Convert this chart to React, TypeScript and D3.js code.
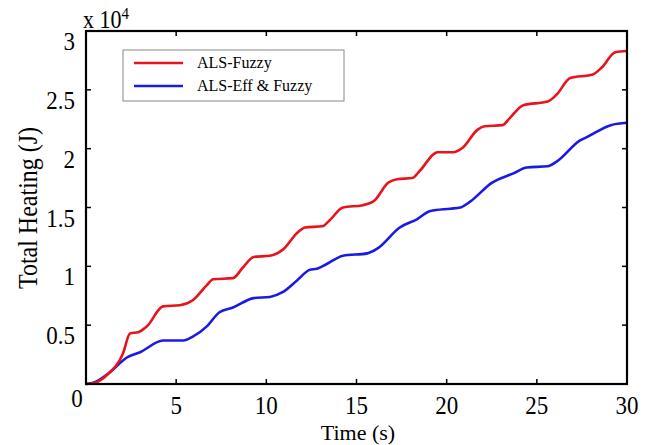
import React from "react";
import * as d3 from "d3";

const xTicks = [5, 10, 15, 20, 25, 30];
const yTicks = [0.5, 1, 1.5, 2, 2.5, 3];
const yTickLabels = ["0.5", "1", "1.5", "2", "2.5", "3"];

const fuzzyT = [0, 0.5, 1.16, 2.05, 2.44, 2.9, 3.38, 4.27, 5.2, 5.9, 6.7, 7.05, 8.15, 8.7, 9.3, 10.2, 10.9, 11.75, 12.15, 13.1, 13.5, 14.25, 15.35, 16.0, 16.75, 17.25, 18.1, 18.5, 19.5, 20.35, 20.9, 21.7, 22.1, 23.1, 23.5, 24.25, 25.6, 26.1, 26.85, 28.1, 28.6, 29.35, 30];
const fuzzyV = [0, 0.01, 0.076, 0.26, 0.43, 0.44, 0.49, 0.66, 0.67, 0.71, 0.84, 0.89, 0.9, 0.99, 1.08, 1.09, 1.14, 1.29, 1.33, 1.34, 1.39, 1.5, 1.52, 1.56, 1.71, 1.74, 1.75, 1.81, 1.97, 1.97, 2.01, 2.16, 2.19, 2.2, 2.26, 2.37, 2.4, 2.46, 2.6, 2.63, 2.69, 2.82, 2.83];

const effT = [0, 0.4, 1.16, 2.33, 3.0, 4.27, 5.4, 5.9, 6.7, 7.4, 8.15, 9.3, 10.2, 10.9, 11.7, 12.4, 12.8, 13.35, 14.25, 15.6, 16.15, 17.4, 18.35, 19.1, 20.2, 20.75, 21.3, 22.5, 23.7, 24.45, 25.6, 26.1, 27.4, 27.8, 29.1, 30];
const effV = [0, 0.01, 0.08, 0.23, 0.27, 0.37, 0.37, 0.4, 0.49, 0.61, 0.65, 0.73, 0.74, 0.78, 0.88, 0.97, 0.98, 1.02, 1.09, 1.11, 1.15, 1.33, 1.4, 1.47, 1.49, 1.5, 1.55, 1.71, 1.79, 1.84, 1.85, 1.89, 2.07, 2.1, 2.2, 2.22];

const seriesNames = ["ALS-Fuzzy", "ALS-Eff & Fuzzy"];
const colors = ["#e8141c", "#1a1ae6"];

const W = 648, H = 445;
const L = 86, R = 627, T = 31, B = 384;
const font = "'Liberation Serif', 'Times New Roman', serif";

function Label({ x, y, anchor, size, children }: { x: number; y: number; anchor: string; size: number; children: React.ReactNode }) {
  return (
    <text transform={`translate(${x},${y}) scale(1,1.12)`} textAnchor={anchor} fontSize={size}>
      {children}
    </text>
  );
}

export default function App() {
  const x = d3.scaleLinear().domain([0, 30]).range([L, R]);
  const y = d3.scaleLinear().domain([0, 3]).range([B, T]);
  const line = d3
    .line<[number, number]>()
    .x((d) => x(d[0]))
    .y((d) => y(d[1]))
    .curve(d3.curveMonotoneX);
  const s1 = fuzzyT.map((t, i) => [t, fuzzyV[i]] as [number, number]);
  const s2 = effT.map((t, i) => [t, effV[i]] as [number, number]);
  const tl = 5;
  return (
    <svg width={W} height={H} style={{ position: "absolute", left: 0, top: 0, background: "#fff" }} fontFamily={font}>
      <rect x={0} y={0} width={W} height={H} fill="#fff" />
      <path d={line(s2) || ""} fill="none" stroke={colors[1]} strokeWidth={2.6} />
      <path d={line(s1) || ""} fill="none" stroke={colors[0]} strokeWidth={2.6} />
      {xTicks.map((t) => (
        <g key={"x" + t}>
          <line x1={x(t)} x2={x(t)} y1={B} y2={B - tl} stroke="#000" strokeWidth={1.5} />
          <line x1={x(t)} x2={x(t)} y1={T} y2={T + tl} stroke="#000" strokeWidth={1.5} />
          <Label x={x(t)} y={414} anchor="middle" size={23}>{t}</Label>
        </g>
      ))}
      {yTicks.map((t, i) => (
        <g key={"y" + t}>
          <line x1={L} x2={L + tl} y1={y(t)} y2={y(t)} stroke="#000" strokeWidth={1.5} />
          <line x1={R} x2={R - tl} y1={y(t)} y2={y(t)} stroke="#000" strokeWidth={1.5} />
          <Label x={75} y={y(t) + 19} anchor="end" size={23}>{yTickLabels[i]}</Label>
        </g>
      ))}
      <Label x={77} y={407} anchor="middle" size={23}>0</Label>
      <rect x={L} y={T} width={R - L} height={B - T} fill="none" stroke="#000" strokeWidth={2.2} />
      <text transform="translate(83,28) scale(1,1.1)" fontSize={22}>
        x 10
        <tspan dy={-8} fontSize={15}>4</tspan>
      </text>
      <text x={358} y={440} textAnchor="middle" fontSize={22}>Time (s)</text>
      <text transform="translate(37,208) rotate(-90) scale(1,1.12)" textAnchor="middle" fontSize={24}>Total Heating (J)</text>
      <rect x={123} y={50} width={221} height={51} fill="#fff" stroke="#888" strokeWidth={1} />
      {seriesNames.map((n, i) => (
        <g key={n}>
          <line x1={134} x2={183} y1={63 + i * 23} y2={63 + i * 23} stroke={colors[i]} strokeWidth={2.6} />
          <text x={197} y={68 + i * 23} fontSize={16}>{n}</text>
        </g>
      ))}
    </svg>
  );
}
